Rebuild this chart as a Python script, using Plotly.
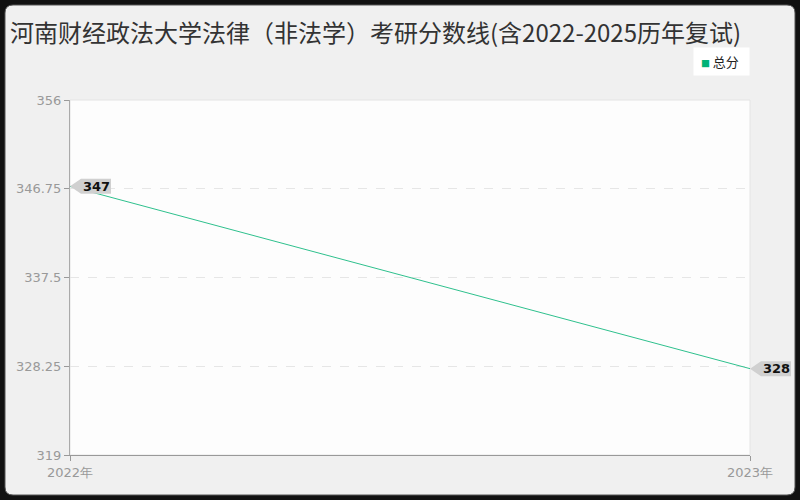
import plotly.graph_objects as go

# Data
years = [2022, 2023]
year_labels = ["2022年", "2023年"]
scores = [347, 328]
y_ticks = [319, 328.25, 337.5, 346.75, 356]
y_tick_labels = ["319", "328.25", "337.5", "346.75", "356"]

x_range = [2022, 2023]
y_range = [319, 356]

title_font = "Noto Sans CJK SC, Noto Sans, sans-serif"
tick_font = "DejaVu Sans, sans-serif"
line_color = "#2ec08d"

fig = go.Figure()

# main line
fig.add_trace(go.Scatter(
    x=years, y=scores, mode="lines",
    line=dict(color=line_color, width=1),
    showlegend=False, hoverinfo="x+y", cliponaxis=False
))

# value labels: grey callout with a left pointer (pixel-sized, anchored at the point,
# paper-referenced so it is not clipped at the plot edge)
callout = "M 0 0 L 11 7.5 L 41 7.5 L 41 -7.5 L 11 -7.5 Z"
for x, y in zip(years, scores):
    ax = (x - x_range[0]) / (x_range[1] - x_range[0])
    ay = (y - y_range[0]) / (y_range[1] - y_range[0])
    fig.add_shape(
        type="path", path=callout, xref="paper", yref="paper",
        xsizemode="pixel", ysizemode="pixel", xanchor=ax, yanchor=ay,
        fillcolor="#d0d0d0", line=dict(width=0), layer="above"
    )
    fig.add_annotation(
        x=x, y=y, text="<b>%d</b>" % y, showarrow=False, xanchor="left",
        xshift=11, font=dict(size=13, color="#111", family=tick_font)
    )

# legend drawn as a small white box
fig.add_annotation(
    x=1, xref="paper", xanchor="right", y=1.148, yref="paper", yanchor="top",
    text=" <span style='color:#00b377;font-size:9px'>■</span> 总分  ",
    showarrow=False, bgcolor="#ffffff", borderpad=4,
    font=dict(size=13, color="#222", family=title_font)
)

# rounded grey panel on black background (paper coords relative to plot area)
x0, x1 = (5 - 70) / 680, (795 - 70) / 680
y0, y1 = (455 - 495) / 355, (455 - 5) / 355
rx, ry = 8 / 680, 8 / 355
path = (f"M {x0 + rx} {y1} L {x1 - rx} {y1} Q {x1} {y1} {x1} {y1 - ry} "
        f"L {x1} {y0 + ry} Q {x1} {y0} {x1 - rx} {y0} "
        f"L {x0 + rx} {y0} Q {x0} {y0} {x0} {y0 + ry} "
        f"L {x0} {y1 - ry} Q {x0} {y1} {x0 + rx} {y1} Z")
fig.add_shape(type="path", path=path, xref="paper", yref="paper",
              fillcolor="#f0f0f0", line=dict(color="#555", width=1), layer="below")
fig.add_shape(type="rect", x0=0, x1=1, y0=0, y1=1, xref="paper", yref="paper",
              fillcolor="#fdfdfd", line=dict(color="#e4e4e4", width=1), layer="below")

fig.update_layout(
    width=800, height=500,
    margin=dict(l=70, r=50, t=100, b=45),
    paper_bgcolor="#111111",
    plot_bgcolor="#fdfdfd",
    showlegend=False,
    title=dict(
        text="河南财经政法大学法律（非法学）考研分数线(含2022-2025历年复试)",
        x=0.0125, xanchor="left", y=0.933, yanchor="middle",
        font=dict(size=24, color="#333", family=title_font)
    ),
    hovermode="closest",
)

fig.update_xaxes(
    range=x_range, tickvals=years, ticktext=year_labels,
    showgrid=False, showline=True, linecolor="#999", linewidth=1,
    ticks="outside", ticklen=5, tickcolor="#999",
    tickfont=dict(size=13, color="#999", family=tick_font), zeroline=False
)
fig.update_yaxes(
    range=y_range, tickvals=y_ticks, ticktext=y_tick_labels,
    showgrid=True, gridcolor="#e6e6e6", griddash="dash",
    showline=True, linecolor="#aaa", linewidth=1,
    ticks="outside", ticklen=5, tickcolor="#999",
    tickfont=dict(size=13, color="#999", family=tick_font), zeroline=False
)

fig.write_html("out.html", config={"displayModeBar": False},
               post_script="document.body.style.margin='0';")
